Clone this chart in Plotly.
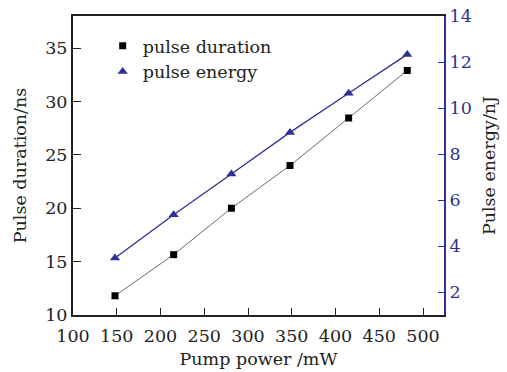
import plotly.graph_objects as go

pump_power = [148, 215, 281, 348, 415, 482]
pulse_duration = [11.8, 15.65, 20.0, 24.0, 28.45, 32.9]
pulse_energy = [3.48, 5.36, 7.13, 8.94, 10.64, 12.33]

x_ticks = [100, 150, 200, 250, 300, 350, 400, 450, 500]
y1_ticks = [10, 15, 20, 25, 30, 35]
y2_ticks = [2, 4, 6, 8, 10, 12, 14]

BLUE = "#2E3192"
FONT = "DejaVu Serif"
FS = 17.5

fig = go.Figure()
fig.add_trace(go.Scatter(x=pump_power, y=pulse_duration, mode="lines",
                         line=dict(color="#444444", width=0.8), showlegend=False, hoverinfo="skip"))
fig.add_trace(go.Scatter(x=pump_power, y=pulse_duration, mode="markers", name="pulse duration",
                         marker=dict(symbol="square", size=7, color="black")))
fig.add_trace(go.Scatter(x=pump_power, y=pulse_energy, mode="lines", yaxis="y2",
                         line=dict(color=BLUE, width=1.3), showlegend=False, hoverinfo="skip"))
fig.add_trace(go.Scatter(x=pump_power, y=pulse_energy, mode="markers", name="pulse energy", yaxis="y2",
                         marker=dict(symbol="triangle-up", size=9, color=BLUE)))

fig.update_layout(
    width=507, height=372,
    margin=dict(l=73, r=63, t=16, b=57),
    paper_bgcolor="white", plot_bgcolor="white",
    font=dict(family=FONT, size=FS, color="#222222"),
    showlegend=True,
    legend=dict(x=0.08, y=0.96, xanchor="left", yanchor="top",
                bgcolor="rgba(0,0,0,0)", font=dict(size=FS, family=FONT),
                itemwidth=30, tracegroupgap=0),
    xaxis=dict(range=[100, 524], tickvals=x_ticks, ticks="inside", ticklen=7,
               tickcolor="#222222", showline=True, linecolor="#222222", linewidth=2,
               mirror=True, showgrid=False, zeroline=False, ticklabelstandoff=4,
               automargin=False,
               title=dict(text="Pump power /mW", standoff=8, font=dict(size=FS))),
    yaxis=dict(range=[10, 38], tickvals=y1_ticks, ticks="inside", ticklen=8,
               tickcolor="#222222", showline=True, linecolor="#222222", linewidth=2,
               showgrid=False, zeroline=False, automargin=False,
               title=dict(text="Pulse duration/ns", standoff=14, font=dict(size=FS))),
    yaxis2=dict(range=[1, 14], tickvals=y2_ticks, overlaying="y", side="right",
                ticks="inside", ticklen=6, tickcolor=BLUE, showline=True, linecolor=BLUE,
                linewidth=2, showgrid=False, zeroline=False, automargin=False,
                tickfont=dict(color=BLUE, size=FS),
                title=dict(text="Pulse energy/nJ", standoff=12, font=dict(size=FS, color="#222222"))),
)

fig.write_html("out.html")
